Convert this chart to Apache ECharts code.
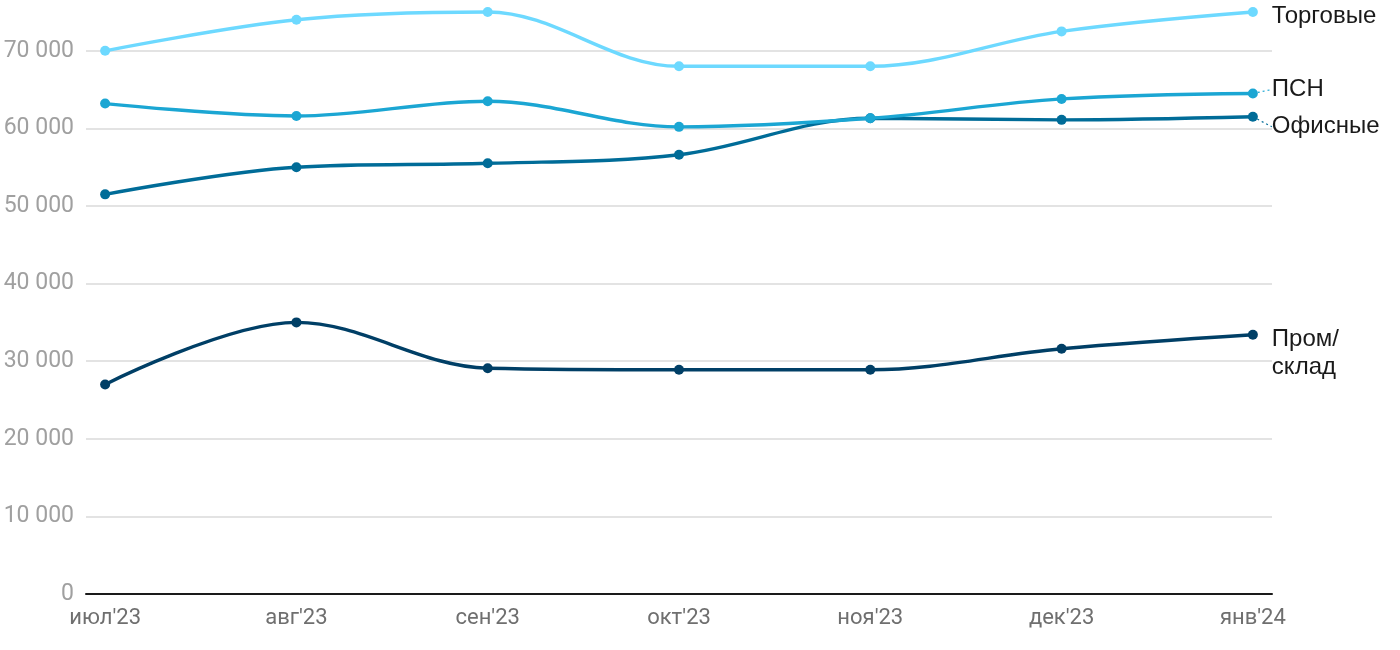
<!DOCTYPE html>
<html>
<head>
<meta charset="utf-8">
<script src="https://cdn.jsdelivr.net/npm/echarts@6/dist/echarts.min.js"></script>
<style>
html,body{margin:0;padding:0;background:#fff;}
#chart{width:1400px;height:650px;}
</style>
</head>
<body>
<div id="chart"></div>
<script>
const months = ["июл'23", "авг'23", "сен'23", "окт'23", "ноя'23", "дек'23", "янв'24"];
const trade = [70000, 74000, 75000, 68000, 68000, 72500, 75000];
const psn = [63200, 61600, 63500, 60200, 61300, 63800, 64500];
const office = [51500, 55000, 55500, 56600, 61300, 61100, 61500];
const industrial = [27000, 35000, 29100, 28900, 28900, 31600, 33400];
const seriesNames = ["Торговые", "ПСН", "Офисные", "Пром/\nсклад"];
const yTicks = [0, 10000, 20000, 30000, 40000, 50000, 60000, 70000];

const colors = ["#6dd9ff", "#1ba6d3", "#006c98", "#003f66"];
const labelDy = [4, -4, 10, 19];
const showLeader = [false, true, true, false];

function pairs(arr) { return arr.map((v, i) => [i, v]); }
function fmt(v) { return String(v).replace(/\B(?=(\d{3})+(?!\d))/g, ' '); }

const all = [trade, psn, office, industrial];
const series = all.map((arr, k) => {
  const d = pairs(arr).map((p, i) => {
    if (i === arr.length - 1) {
      return {
        value: p,
        label: {
          show: true,
          position: 'right',
          distance: 14,
          formatter: seriesNames[k],
          color: '#1a1a1a',
          fontFamily: 'Liberation Sans, Arial, sans-serif',
          fontSize: 24,
          lineHeight: 28,
          align: 'left',
          verticalAlign: 'middle'
        }
      };
    }
    return p;
  });
  return {
    type: 'line',
    name: seriesNames[k],
    smooth: 0.35,
    data: d,
    symbol: 'circle',
    symbolSize: 10,
    lineStyle: { width: 3.4, color: colors[k] },
    itemStyle: { color: colors[k] },
    z: 10 - k,
    clip: false,
    labelLayout: { dy: labelDy[k] },
    labelLine: { show: showLeader[k], lineStyle: { color: colors[k], width: 1.2, type: [2, 3] } },
    animation: false
  };
});

const chart = echarts.init(document.getElementById('chart'), null, { renderer: 'canvas' });
chart.setOption({
  animation: false,
  grid: { left: 86, right: 128, top: 12, bottom: 56 },
  xAxis: {
    type: 'value',
    min: -0.1,
    max: 6.1,
    axisLine: { show: true, onZero: false, lineStyle: { color: '#1a1a1a', width: 2 } },
    axisTick: { show: false },
    splitLine: { show: false },
    axisLabel: {
      customValues: [0, 1, 2, 3, 4, 5, 6],
      formatter: v => months[Math.round(v)],
      color: '#6f6f6f',
      fontFamily: 'Roboto, sans-serif',
      fontSize: 22,
      margin: 13
    }
  },
  yAxis: {
    type: 'value',
    min: 0,
    max: 75000,
    axisLine: { show: false },
    axisTick: { show: false, customValues: yTicks },
    splitLine: { show: true, lineStyle: { color: '#e3e3e3', width: 2 } },
    axisLabel: {
      customValues: yTicks,
      formatter: v => fmt(v),
      color: '#a0a0a0',
      fontFamily: 'Roboto, sans-serif',
      fontSize: 23,
      margin: 12
    }
  },
  series: series
});
</script>
</body>
</html>
